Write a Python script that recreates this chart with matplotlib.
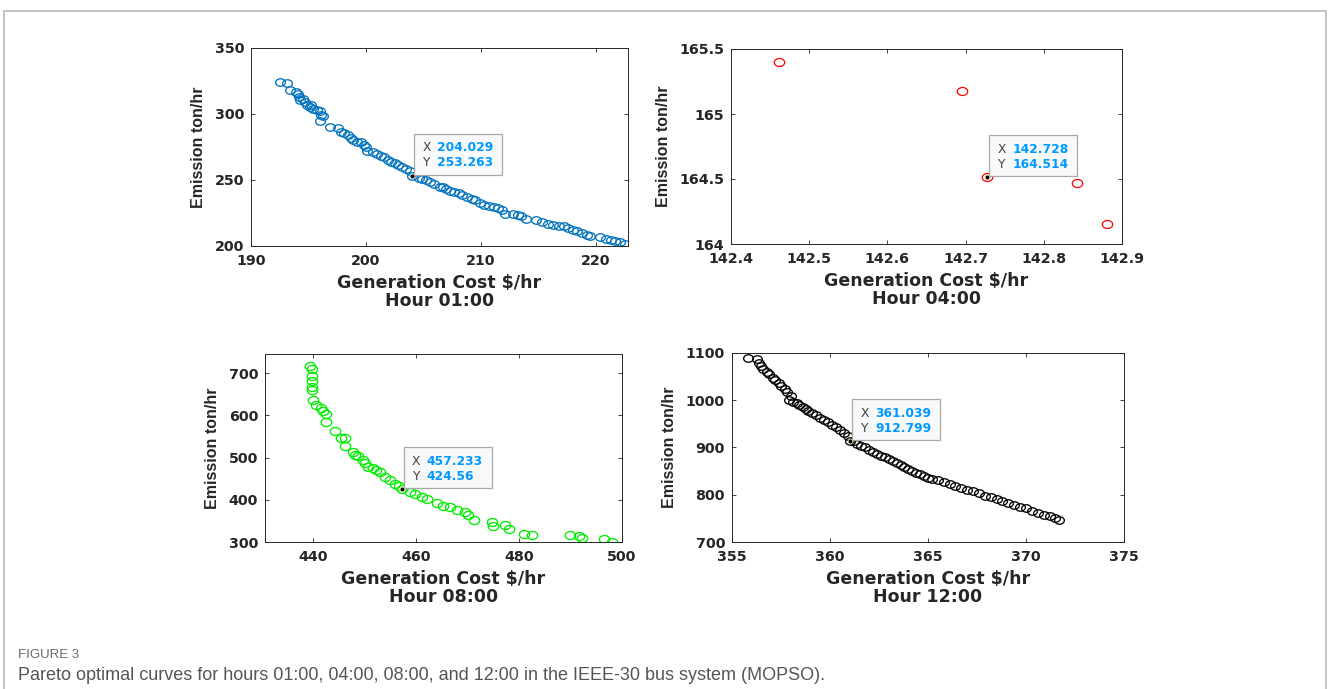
import matplotlib.pyplot as plt
from matplotlib.path import Path
from matplotlib.markers import MarkerStyle
from matplotlib.patches import Rectangle
from matplotlib.transforms import Affine2D

plt.rcParams['font.family'] = ['DejaVu Sans']
plt.rcParams['font.weight'] = 'bold'

W, H = 1328, 689

# Hour 01:00
cost_h01 = [192.5, 193.1, 193.4, 193.9, 194.1, 194.2, 194.5, 194.7, 194.3, 194.9, 195.1, 195.4, 195.2,
            195.7, 196.0, 196.1, 196.0, 196.3, 196.9, 197.6, 197.8, 198.1, 198.4, 198.7, 198.9, 199.2,
            199.6, 199.8, 200.0, 200.1, 200.6, 201.0, 201.3, 201.6, 201.9, 202.2, 202.5, 202.8, 203.1,
            203.5, 203.8, 204.029, 204.6, 204.9, 205.2, 205.6, 205.9, 206.4, 206.7, 207.0, 207.3, 207.7,
            208.1, 208.4, 208.8, 209.2, 209.5, 209.9, 210.3, 210.7, 211.1, 211.5, 211.8, 212.1, 212.8,
            213.2, 213.5, 213.9, 214.8, 215.3, 215.8, 216.3, 216.8, 217.2, 217.6, 218.0, 218.4, 218.8,
            219.2, 219.5, 220.4, 220.9, 221.3, 221.7, 222.1, 222.5]
emis_h01 = [324.0, 323.5, 318.5, 317.0, 315.5, 313.0, 311.0, 309.0, 310.5, 307.0, 305.5, 303.5, 306.5,
            303.0, 302.0, 299.0, 295.0, 298.5, 290.5, 289.5, 286.0, 285.5, 284.0, 281.5, 280.0, 279.0,
            278.5, 276.5, 275.0, 272.0, 271.5, 270.0, 268.5, 267.5, 265.5, 264.0, 262.5, 261.0, 259.5,
            258.0, 256.5, 253.263, 251.5, 251.0, 250.0, 248.5, 247.0, 245.0, 244.5, 243.5, 242.0, 241.0,
            240.0, 238.5, 237.0, 235.5, 234.5, 232.5, 231.0, 230.5, 229.5, 228.5, 227.0, 224.5, 224.5,
            223.5, 222.5, 220.5, 219.5, 218.0, 216.5, 216.0, 215.5, 215.0, 213.5, 212.0, 211.0, 210.0,
            208.5, 207.5, 206.5, 205.5, 204.5, 204.0, 203.0, 201.5]

# Hour 04:00
cost_h04 = [142.461, 142.695, 142.728, 142.842, 142.881]
emis_h04 = [165.40, 165.175, 164.514, 164.472, 164.155]

# Hour 08:00
cost_h08 = [439.5, 439.9, 439.8, 439.8, 439.8, 439.8, 440.0, 440.6, 441.6, 441.9, 442.6, 442.6, 444.2,
            445.5, 446.2, 446.2, 447.8, 448.1, 448.8, 449.7, 450.1, 450.7, 451.7, 452.3, 453.0, 454.0,
            454.9, 455.9, 456.75, 457.233, 458.8, 459.8, 461.1, 462.1, 464.0, 465.3, 466.6, 467.9, 469.5,
            470.2, 471.2, 474.7, 475.0, 477.3, 478.0, 480.9, 482.5, 490.0, 491.6, 492.3, 496.5, 498.1]
emis_h08 = [717, 709, 692, 680, 668, 660, 637, 625, 617, 609, 603, 585, 563,
            545, 545, 527, 514, 506, 504, 494, 486, 478, 474, 470, 466, 454,
            446, 438, 432, 424.56, 418, 413, 406, 401, 392, 386, 382, 376, 371,
            363, 351, 347, 339, 341, 331, 319, 317, 317, 315, 310, 308, 300]

# Hour 12:00
cost_h12 = [355.8, 356.3, 356.4, 356.5, 356.6, 356.8, 356.9, 357.1, 357.2, 357.4, 357.5, 357.7, 357.8,
            358.0, 357.9, 358.1, 358.3, 358.4, 358.6, 358.8, 358.9, 359.1, 359.3, 359.5, 359.7, 359.9,
            360.1, 360.3, 360.5, 360.7, 360.9, 361.039, 361.2, 361.4, 361.6, 361.8, 362.0, 362.2, 362.4,
            362.6, 362.8, 363.0, 363.2, 363.4, 363.6, 363.8, 364.0, 364.2, 364.4, 364.6, 364.8, 365.0,
            365.2, 365.5, 365.8, 366.1, 366.4, 366.7, 367.0, 367.3, 367.6, 367.9, 368.2, 368.5, 368.8,
            369.1, 369.4, 369.7, 370.0, 370.3, 370.6, 370.9, 371.2, 371.5, 371.7]
emis_h12 = [1090, 1087, 1078, 1072, 1066, 1060, 1055, 1048, 1042, 1036, 1030, 1024, 1017,
            1010, 1001, 997, 994, 990, 986, 981, 977, 973, 968, 963, 958, 953,
            948, 943, 937, 931, 925, 912.799, 914, 908, 904, 900, 895, 891, 887,
            883, 879, 875, 871, 867, 863, 859, 855, 851, 847, 843, 839, 836,
            834, 831, 827, 823, 818, 815, 811, 807, 803, 798, 795, 791, 786,
            782, 778, 774, 771, 766, 761, 757, 754, 750, 747]

hours = ['Hour 01:00', 'Hour 04:00', 'Hour 08:00', 'Hour 12:00']
tips = [(204.029, 253.263, '204.029', '253.263'),
        (142.728, 164.514, '142.728', '164.514'),
        (457.233, 424.56, '457.233', '424.56'),
        (361.039, 912.799, '361.039', '912.799')]

# MATLAB export looks stretched sideways, so use an oval marker
oval = MarkerStyle(Path.unit_circle().transformed(Affine2D().scale(1.3, 1.0)))

fig = plt.figure(figsize=(W / 100, H / 100), dpi=100)


def axes_px(left, top, right, bottom):
    return fig.add_axes([left / W, 1 - bottom / H, (right - left) / W, (bottom - top) / H])


ax1 = axes_px(251, 48, 628, 246)
ax2 = axes_px(731, 49, 1122, 244)
ax3 = axes_px(265, 354, 622, 542)
ax4 = axes_px(732, 353, 1124, 542)

ax1.plot(cost_h01, emis_h01, ls='none', marker=oval, ms=7, mfc='none', mec='#0072BD', mew=0.95)
ax2.plot(cost_h04, emis_h04, ls='none', marker=oval, ms=7.5, mfc='none', mec='#FF0000', mew=0.9)
ax3.plot(cost_h08, emis_h08, ls='none', marker=oval, ms=7.5, mfc='none', mec='#00EE00', mew=0.95)
ax4.plot(cost_h12, emis_h12, ls='none', marker=oval, ms=7, mfc='none', mec='black', mew=0.95)

ax1.set_xlim(190, 222.8)
ax1.set_ylim(200, 350)
ax1.set_xticks([190, 200, 210, 220])
ax1.set_yticks([200, 250, 300, 350])

ax2.set_xlim(142.4, 142.9)
ax2.set_ylim(164, 165.5)
ax2.set_xticks([142.4, 142.5, 142.6, 142.7, 142.8, 142.9])
ax2.set_xticklabels(['142.4', '142.5', '142.6', '142.7', '142.8', '142.9'])
ax2.set_yticks([164, 164.5, 165, 165.5])
ax2.set_yticklabels(['164', '164.5', '165', '165.5'])

ax3.set_xlim(430.7, 500)
ax3.set_ylim(300, 745)
ax3.set_xticks([440, 460, 480, 500])
ax3.set_yticks([300, 400, 500, 600, 700])

ax4.set_xlim(355, 375)
ax4.set_ylim(700, 1100)
ax4.set_xticks([355, 360, 365, 370, 375])
ax4.set_yticks([700, 800, 900, 1000, 1100])

for ax, hr, tip in zip([ax1, ax2, ax3, ax4], hours, tips):
    ax.tick_params(direction='in', top=True, right=True, length=3, width=0.6,
                   color='#262626', labelcolor='#262626', labelsize=10.3)
    ax.tick_params(axis='x', pad=6)
    ax.tick_params(axis='y', pad=5)
    for sp in ax.spines.values():
        sp.set_linewidth(0.7)
        sp.set_color('#262626')
    ax.set_xlabel('Generation Cost $/hr\n' + hr, fontsize=12.5, fontweight='bold', color='#262626',
                  linespacing=1.0, labelpad=4)
    ax.set_ylabel('Emission ton/hr', fontsize=11.5, fontweight='bold', family='Liberation Sans',
                  color='#262626', labelpad=6)

    # data tip
    tx, ty, sx, sy = tip
    ax.plot([tx], [ty], ls='none', marker='o', ms=3.5, mfc='black', mec='#E8E0A0', mew=0.6, zorder=5)
    px, py = ax.transData.transform((tx, ty))
    bx, by = px + 2, py + 1
    bw, bh = 88, 41
    fig.add_artist(Rectangle((bx / W, by / H), bw / W, bh / H, transform=fig.transFigure,
                             facecolor='#F8F9FA', edgecolor='#A8A8A8', lw=0.9, zorder=10))
    for k, (lab, val) in enumerate([('X', sx), ('Y', sy)]):
        yy = by + bh - 14 - 15 * k
        fig.text((bx + 8) / W, yy / H, lab, fontsize=8.8, fontweight='normal', color='#404040',
                 va='center', ha='left', zorder=11)
        fig.text((bx + 23) / W, yy / H, val, fontsize=8.8, fontweight='bold', color='#0099FF',
                 va='center', ha='left', zorder=11)

# page frame and caption
fig.add_artist(Rectangle((4 / W, -0.05), 1322 / W, 1.05 - 11 / H, transform=fig.transFigure,
                         facecolor='none', edgecolor='#BBBBBB', lw=1.2))
fig.text(18 / W, 1 - 655 / H, 'FIGURE 3', fontsize=9.5, fontweight='normal', color='#6A6A6A',
         family='Liberation Sans', va='center')
fig.text(18 / W, 1 - 676 / H,
         'Pareto optimal curves for hours 01:00, 04:00, 08:00, and 12:00 in the IEEE-30 bus system (MOPSO).',
         fontsize=13, fontweight='normal', color='#555555',
         family='Liberation Sans', va='center')

fig.savefig('out.png', dpi=100)
